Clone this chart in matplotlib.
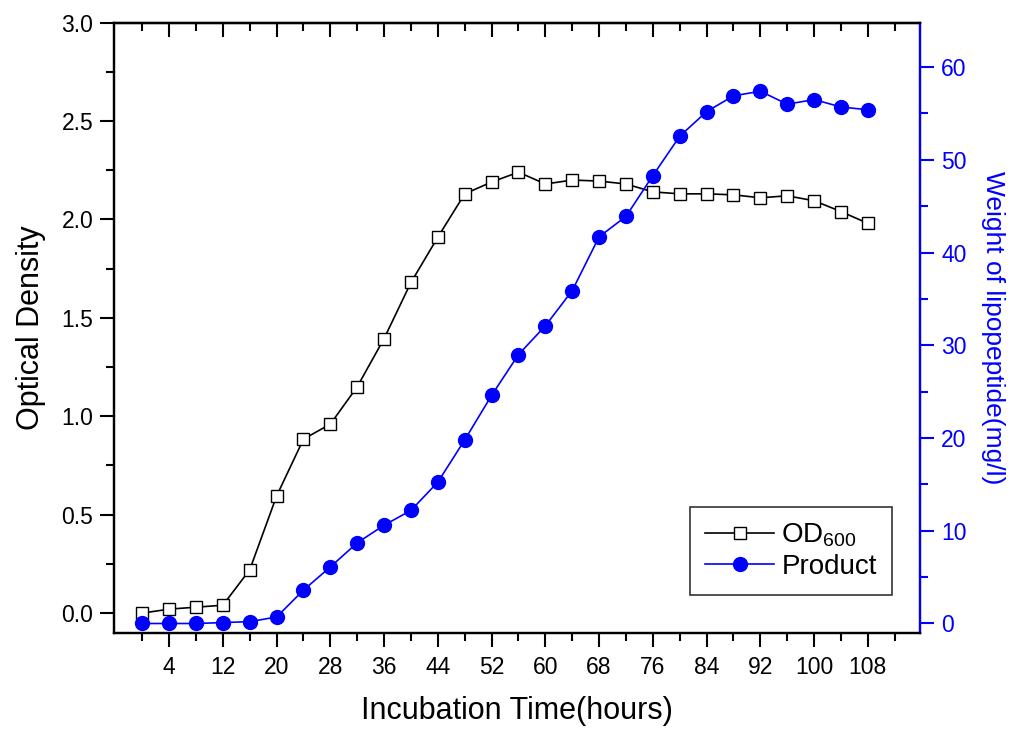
import matplotlib
matplotlib.use("Agg")
import matplotlib.pyplot as plt
from matplotlib.ticker import MultipleLocator, FixedLocator, FormatStrFormatter

plt.rcParams['font.family'] = ['Liberation Sans', 'DejaVu Sans']
plt.rcParams['mathtext.default'] = 'regular'

# Data
hours = [0, 4, 8, 12, 16, 20, 24, 28, 32, 36, 40, 44, 48, 52, 56,
         60, 64, 68, 72, 76, 80, 84, 88, 92, 96, 100, 104, 108]
od600 = [0.00, 0.02, 0.03, 0.04, 0.22, 0.595, 0.884, 0.96, 1.15, 1.395, 1.68, 1.91, 2.13, 2.19, 2.24,
         2.18, 2.20, 2.195, 2.18, 2.14, 2.13, 2.13, 2.125, 2.11, 2.12, 2.095, 2.04, 1.98]
product = [0.0, 0.0, 0.0, 0.1, 0.2, 0.7, 3.6, 6.1, 8.7, 10.6, 12.2, 15.25, 19.8, 24.6, 29.0,
           32.1, 35.9, 41.7, 43.9, 48.3, 52.55, 55.2, 56.9, 57.4, 56.0, 56.5, 55.7, 55.4]

x_major = [4, 12, 20, 28, 36, 44, 52, 60, 68, 76, 84, 92, 100, 108]
x_minor = [0, 8, 16, 24, 32, 40, 48, 56, 64, 72, 80, 88, 96, 104, 112]

blue = '#0000ff'

fig = plt.figure(figsize=(10.18, 7.29), dpi=100)
ax = fig.add_axes([0.112, 0.132, 0.792, 0.837])
ax2 = ax.twinx()

l1, = ax.plot(hours, od600, color='black', linewidth=1.2, marker='s', markersize=9,
              markerfacecolor='white', markeredgecolor='black', markeredgewidth=1.0,
              label='OD$_{600}$', zorder=3)
l2, = ax2.plot(hours, product, color=blue, linewidth=1.2, marker='o', markersize=10,
               markerfacecolor=blue, markeredgecolor=blue, label='Product', zorder=3)

ax.set_xlim(-4.2, 115.8)
ax.set_ylim(-0.1, 3.0)
ax2.set_ylim(-1.0, 64.8)

ax.xaxis.set_major_locator(FixedLocator(x_major))
ax.xaxis.set_minor_locator(FixedLocator(x_minor))
ax.yaxis.set_major_locator(MultipleLocator(0.5))
ax.yaxis.set_minor_locator(MultipleLocator(0.25))
ax.yaxis.set_major_formatter(FormatStrFormatter('%.1f'))
ax2.yaxis.set_major_locator(MultipleLocator(10))
ax2.yaxis.set_minor_locator(MultipleLocator(5))

for s in ax.spines.values():
    s.set_linewidth(1.6)
for s in ax2.spines.values():
    s.set_linewidth(1.6)
ax2.spines['right'].set_color(blue)

ax.tick_params(axis='both', which='major', direction='out', length=10, width=1.5,
               labelsize=16.5, pad=5)
ax.tick_params(axis='both', which='minor', direction='out', length=6, width=1.5)
ax.tick_params(axis='x', pad=7)
ax2.tick_params(axis='y', which='major', direction='out', length=10, width=1.5,
                colors=blue, labelsize=16.5, pad=5)
ax2.tick_params(axis='y', which='minor', direction='out', length=6, width=1.5, colors=blue)

# top axis with inward ticks, no labels
top = ax.secondary_xaxis('top')
top.xaxis.set_major_locator(FixedLocator(x_major))
top.xaxis.set_minor_locator(FixedLocator(x_minor))
top.tick_params(which='major', direction='in', length=10, width=1.5, labeltop=False)
top.tick_params(which='minor', direction='in', length=6, width=1.5)
top.spines['top'].set_linewidth(1.6)

ax.set_xlabel('Incubation Time(hours)', fontsize=22, labelpad=12)
ax.set_ylabel('Optical Density', fontsize=22, labelpad=11)
ax2.set_ylabel('Weight of lipopeptide(mg/l)', fontsize=19, color=blue,
               rotation=270, labelpad=28)

leg = ax2.legend([l1, l2], ['OD$_{600}$', 'Product'], loc='lower right',
                 bbox_to_anchor=(0.965, 0.062), fontsize=20, frameon=True,
                 fancybox=False, edgecolor='black', handlelength=2.5,
                 handletextpad=0.25, borderpad=0.55, borderaxespad=0,
                 labelspacing=0.15)
leg.get_frame().set_linewidth(1.2)

fig.savefig('out.png', dpi=100)
